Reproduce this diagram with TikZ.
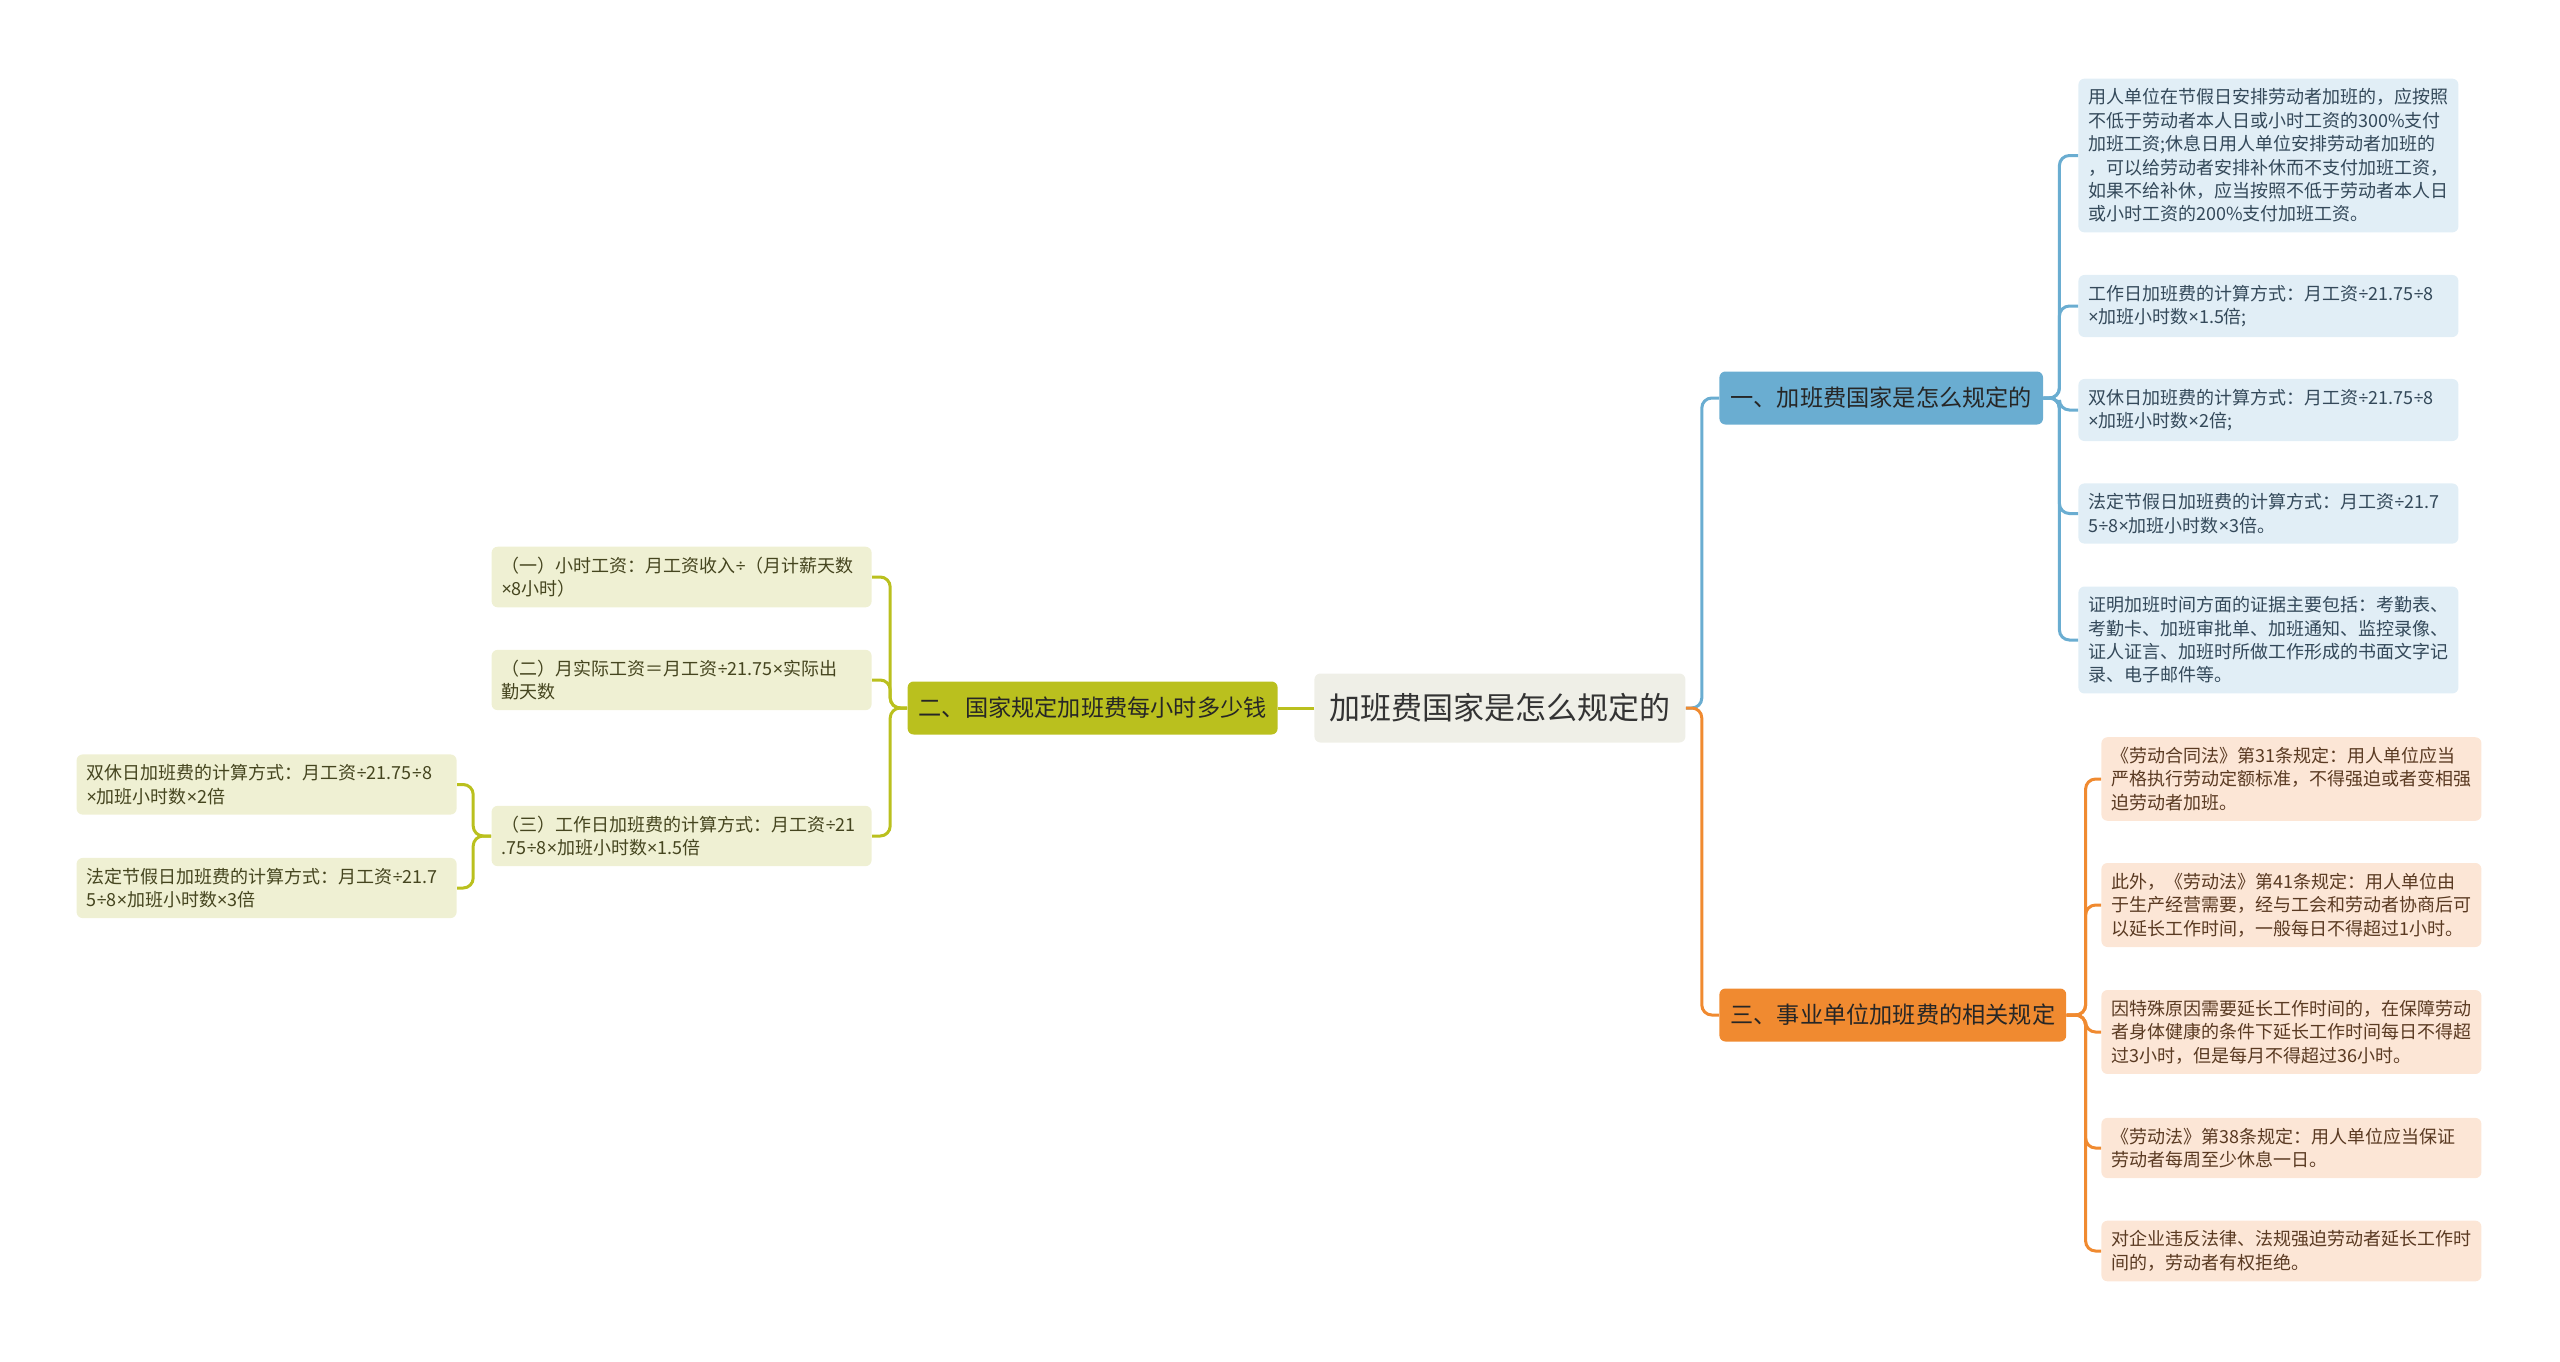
\documentclass[tikz,border=0pt]{standalone}
\usepackage{fontspec}
\setmainfont{Noto Sans CJK SC}
\newfontfamily\symfont{Noto Sans}
\newcommand{\tms}{{\symfont ×}}
\newcommand{\dvs}{{\symfont ÷}}
\usepackage{tikz}
\usetikzlibrary{positioning}
\definecolor{rootfill}{HTML}{EFEFE7}
\definecolor{bluec}{HTML}{6AADD1}
\definecolor{bluepale}{HTML}{E1EEF6}
\definecolor{blueink}{HTML}{34495A}
\definecolor{orangec}{HTML}{F08A30}
\definecolor{orangepale}{HTML}{FCE6D6}
\definecolor{orangeink}{HTML}{5A3A22}
\definecolor{greenc}{HTML}{BAC01E}
\definecolor{greenpale}{HTML}{EFF0D3}
\definecolor{greenink}{HTML}{45451F}
\tikzstyle{rootbox}=[fill=rootfill, rounded corners=3pt, text=black!80, font=\fontsize{15.5}{18}\selectfont, inner xsep=7.5pt, minimum height=34.5pt]
\tikzstyle{branch}=[rounded corners=3pt, text=black!85, font=\fontsize{11.6}{14}\selectfont, inner xsep=5.5pt, minimum height=26.5pt]
\tikzstyle{leaf}=[rounded corners=3pt, font=\fontsize{9}{11.7}\selectfont, align=left, text width=180pt, inner xsep=5pt, inner ysep=5pt]
\tikzstyle{bleaf}=[leaf, fill=bluepale, text=blueink]
\tikzstyle{oleaf}=[leaf, fill=orangepale, text=orangeink]
\tikzstyle{gleaf}=[leaf, fill=greenpale, text=greenink]
\tikzstyle{bline}=[draw=bluec, line width=1.5pt, rounded corners=5pt]
\tikzstyle{oline}=[draw=orangec, line width=1.5pt, rounded corners=5pt]
\tikzstyle{gline}=[draw=greenc, line width=1.5pt, rounded corners=5pt]

\begin{document}
\begin{tikzpicture}[x=0.5pt, y=-0.5pt]
\useasboundingbox (0,0) rectangle (2560,1361);

\node [rootbox, anchor=west] (0) at (1314,708) {加班费国家是怎么规定的};
\node [branch, fill=bluec, anchor=west] (1) at (1719,398) {一、加班费国家是怎么规定的};
\node [branch, fill=greenc, anchor=east] (2) at (1278,708) {二、国家规定加班费每小时多少钱};
\node [branch, fill=orangec, anchor=west] (3) at (1719,1015) {三、事业单位加班费的相关规定};

\node [bleaf, anchor=west] (1a) at (2078,155.5) {用人单位在节假日安排劳动者加班的，应按照\\不低于劳动者本人日或小时工资的300\%支付\\加班工资;休息日用人单位安排劳动者加班的\\，可以给劳动者安排补休而不支付加班工资，\\如果不给补休，应当按照不低于劳动者本人日\\或小时工资的200\%支付加班工资。};
\node [bleaf, anchor=west] (1b) at (2078,306) {工作日加班费的计算方式：月工资\dvs{}21.75\dvs{}8\\\tms{}加班小时数\tms{}1.5倍;};
\node [bleaf, anchor=west] (1c) at (2078,410) {双休日加班费的计算方式：月工资\dvs{}21.75\dvs{}8\\\tms{}加班小时数\tms{}2倍;};
\node [bleaf, anchor=west] (1d) at (2078,513.5) {法定节假日加班费的计算方式：月工资\dvs{}21.7\\5\dvs{}8\tms{}加班小时数\tms{}3倍。};
\node [bleaf, anchor=west] (1e) at (2078,640) {证明加班时间方面的证据主要包括：考勤表、\\考勤卡、加班审批单、加班通知、监控录像、\\证人证言、加班时所做工作形成的书面文字记\\录、电子邮件等。};

\node [gleaf, anchor=east] (2a) at (872,577) {（一）小时工资：月工资收入\dvs{}（月计薪天数\\\tms{}8小时）};
\node [gleaf, anchor=east] (2b) at (872,680) {（二）月实际工资＝月工资\dvs{}21.75\tms{}实际出\\勤天数};
\node [gleaf, anchor=east] (2c) at (872,836) {（三）工作日加班费的计算方式：月工资\dvs{}21\\.75\dvs{}8\tms{}加班小时数\tms{}1.5倍};
\node [gleaf, anchor=east] (2ca) at (457,784.5) {双休日加班费的计算方式：月工资\dvs{}21.75\dvs{}8\\\tms{}加班小时数\tms{}2倍};
\node [gleaf, anchor=east] (2cb) at (457,888) {法定节假日加班费的计算方式：月工资\dvs{}21.7\\5\dvs{}8\tms{}加班小时数\tms{}3倍};

\node [oleaf, anchor=west] (3a) at (2101,779) {《劳动合同法》第31条规定：用人单位应当\\严格执行劳动定额标准，不得强迫或者变相强\\迫劳动者加班。};
\node [oleaf, anchor=west] (3b) at (2101,905) {此外，《劳动法》第41条规定：用人单位由\\于生产经营需要，经与工会和劳动者协商后可\\以延长工作时间，一般每日不得超过1小时。};
\node [oleaf, anchor=west] (3c) at (2101,1032) {因特殊原因需要延长工作时间的，在保障劳动\\者身体健康的条件下延长工作时间每日不得超\\过3小时，但是每月不得超过36小时。};
\node [oleaf, anchor=west] (3d) at (2101,1148) {《劳动法》第38条规定：用人单位应当保证\\劳动者每周至少休息一日。};
\node [oleaf, anchor=west] (3e) at (2101,1251) {对企业违反法律、法规强迫劳动者延长工作时\\间的，劳动者有权拒绝。};

\draw[bline] (0.east) -- ++(16,0) |- (1.west);
\draw[oline] (0.east) -- ++(16,0) |- (3.west);
\draw[gline] (0.west) -- (2.east);
\foreach \n in {1a,1b,1c,1d,1e}
  \draw[bline] (1.east) -- ++(16,0) |- (\n.west);
\foreach \n in {3a,3b,3c,3d,3e}
  \draw[oline] (3.east) -- ++(19,0) |- (\n.west);
\foreach \n in {2a,2b,2c}
  \draw[gline] (2.west) -- ++(-17,0) |- (\n.east);
\foreach \n in {2ca,2cb}
  \draw[gline] (2c.west) -- ++(-18,0) |- (\n.east);
\end{tikzpicture}
\end{document}
